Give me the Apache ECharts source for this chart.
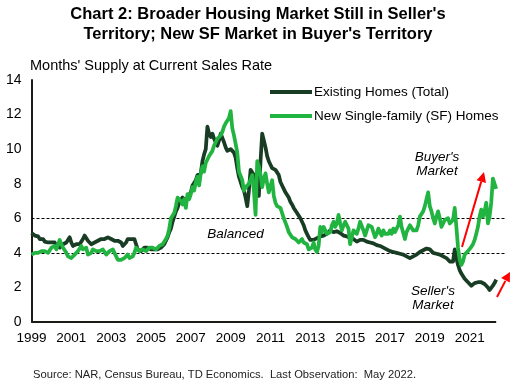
<!DOCTYPE html>
<html><head><meta charset="utf-8">
<script src="https://cdn.jsdelivr.net/npm/echarts@6/dist/echarts.min.js"></script>
<style>html,body{margin:0;padding:0;background:#fff}#c{width:516px;height:385px}</style>
</head><body><div id="c"></div>
<script>
// ---------- DATA ----------
const chartTitle = "Chart 2: Broader Housing Market Still in Seller's\nTerritory; New SF Market in Buyer's Territory";
const yAxisTitle = "Months' Supply at Current Sales Rate";
const sourceNote = "Source: NAR, Census Bureau, TD Economics.  Last Observation:  May 2022.";
const seriesNames = ["Existing Homes (Total)", "New Single-family (SF) Homes"];
const yTicks = [0, 2, 4, 6, 8, 10, 12, 14];
const firstYear = 1999, lastYear = 2022, lastMonth = 5; // monthly, Jan 1999 - May 2022
const balancedBand = [4, 6];

// Existing homes, months' supply (Jan 1999 .. May 2022)
const existingHomes = [
  5.15, 5.2, 5.0, 4.9, 4.95, 4.8, 4.7, 4.8, 4.65, 4.7, 4.6, 4.5,   // 1999
  4.6, 4.5, 4.6, 4.4, 4.5, 4.3, 4.4, 4.5, 4.4, 4.6, 4.7, 4.9,      // 2000
  4.6, 4.4, 4.4, 4.5, 4.4, 4.5, 4.6, 4.8, 5.0, 4.9, 4.7, 4.6,      // 2001
  4.5, 4.6, 4.6, 4.7, 4.7, 4.8, 4.8, 4.7, 4.8, 4.9, 4.9, 4.8,      // 2002
  4.8, 4.9, 4.7, 4.8, 4.7, 4.6, 4.6, 4.4, 4.4, 4.6, 4.8, 4.9,      // 2003
  4.8, 4.9, 4.8, 4.5, 4.2, 4.2, 4.1, 4.2, 4.3, 4.2, 4.3, 4.2,      // 2004
  4.2, 4.3, 4.2, 4.3, 4.2, 4.3, 4.3, 4.4, 4.5, 4.7, 4.9, 5.2,      // 2005
  5.4, 5.8, 6.1, 6.4, 6.6, 6.9, 7.0, 7.2, 7.1, 7.0, 7.2, 7.3,      // 2006
  7.5, 7.9, 8.0, 8.2, 8.5, 8.4, 8.6, 9.3, 9.7, 10.0, 11.3, 10.9,   // 2007
  10.7, 10.9, 10.6, 10.4, 10.2, 10.5, 10.9, 10.8, 10.4, 10.1, 9.9, 10.0, // 2008
  10.0, 10.1, 9.8, 9.5, 8.9, 8.4, 8.1, 7.8, 7.6, 7.2, 6.7, 7.6,    // 2009
  8.8, 8.7, 8.5, 8.6, 7.8, 7.3, 9.3, 10.9, 10.5, 10.1, 9.6, 9.3,   // 2010
  9.1, 8.9, 8.9, 8.8, 8.7, 8.5, 8.1, 7.9, 7.7, 7.5, 7.4, 7.2,      // 2011
  6.95, 6.8, 6.6, 6.5, 6.3, 6.2, 6.0, 5.9, 5.6, 5.3, 5.1, 4.9,     // 2012
  4.75, 4.7, 4.75, 4.8, 4.85, 4.9, 4.95, 5.0, 5.0, 5.0, 5.1, 5.2,  // 2013
  5.3, 5.25, 5.2, 5.2, 5.25, 5.2, 5.15, 5.1, 5.0, 5.0, 4.95, 4.9,  // 2014
  4.85, 4.9, 4.8, 4.7, 4.65, 4.7, 4.75, 4.8, 4.75, 4.7, 4.65, 4.6, // 2015
  4.6, 4.6, 4.55, 4.45, 4.45, 4.4, 4.4, 4.35, 4.3, 4.25, 4.2, 4.15, // 2016
  4.1, 4.1, 4.05, 4.05, 4.0, 4.0, 3.95, 3.95, 3.9, 3.85, 3.8, 3.7, // 2017
  3.7, 3.75, 3.8, 3.85, 3.9, 3.95, 4.05, 4.1, 4.15, 4.2, 4.25, 4.35, // 2018
  4.2, 4.1, 4.0, 4.0, 3.95, 3.9, 3.9, 3.85, 3.8, 3.75, 3.7, 3.6,   // 2019
  3.5, 3.4, 3.5, 4.2, 3.7, 3.3, 3.0, 2.8, 2.7, 2.5, 2.4, 2.3,      // 2020
  2.2, 2.1, 2.15, 2.25, 2.3, 2.3, 2.35, 2.3, 2.25, 2.2, 2.1, 2.0,  // 2021
  1.85, 1.9, 2.1, 2.25, 2.45                                       // 2022
];

// New single-family homes, months' supply (Jan 1999 .. May 2022)
const newSFHomes = [
  3.9, 4.0, 4.0, 3.9, 4.0, 4.0, 4.1, 4.2, 4.1, 4.0, 4.0, 4.1,      // 1999
  4.3, 4.3, 4.4, 4.2, 4.5, 4.75, 4.5, 4.3, 4.2, 4.0, 3.8, 3.7,     // 2000
  3.7, 3.8, 3.9, 4.0, 4.1, 4.2, 4.4, 4.2, 4.1, 4.3, 3.9, 3.8,      // 2001
  4.0, 4.2, 4.3, 4.1, 4.0, 4.1, 4.0, 4.2, 4.1, 3.9, 4.0, 4.1,      // 2002
  4.1, 4.2, 4.0, 3.9, 3.6, 3.5, 3.6, 3.5, 3.7, 3.8, 3.9, 3.7,      // 2003
  3.7, 3.8, 4.0, 4.3, 4.4, 4.1, 4.0, 4.2, 4.3, 4.1, 4.2, 4.3,      // 2004
  4.2, 4.3, 4.3, 4.2, 4.3, 4.4, 4.3, 4.5, 4.6, 4.8, 5.0, 5.4,      // 2005
  6.0, 6.1, 6.3, 6.7, 7.2, 7.3, 7.0, 6.8, 7.1, 6.6, 7.4, 7.1,      // 2006
  7.4, 7.8, 7.6, 8.1, 8.4, 7.9, 8.6, 9.0, 8.7, 9.2, 9.4, 9.6,      // 2007
  9.7, 9.9, 10.2, 10.4, 10.6, 10.5, 10.8, 11.0, 11.3, 11.5, 11.4, 11.8, // 2008
  12.2, 11.2, 10.8, 10.3, 9.8, 8.7, 8.8, 8.2, 7.6, 7.8, 7.7, 8.0,  // 2009
  8.0, 8.5, 7.6, 6.2, 9.3, 9.0, 8.5, 7.8, 8.3, 8.6, 8.0, 7.5,      // 2010
  7.6, 8.2, 7.3, 6.9, 6.7, 6.8, 6.6, 6.5, 6.0, 5.9, 5.5, 5.2,      // 2011
  5.1, 4.9, 4.8, 4.8, 4.7, 4.6, 4.7, 4.8, 4.6, 4.5, 4.5, 4.2,      // 2012
  4.1, 4.3, 4.6, 4.2, 4.05, 4.4, 5.5, 5.2, 5.5, 5.3, 5.1, 5.0,     // 2013
  5.2, 5.6, 5.8, 5.5, 5.7, 6.2, 5.7, 5.3, 5.6, 5.8, 5.7, 5.4,      // 2014
  4.5, 4.9, 5.3, 5.4, 5.1, 5.4, 5.8, 5.9, 5.3, 5.0, 5.3, 5.6,      // 2015
  5.6, 5.5, 5.2, 4.9, 5.1, 5.4, 5.3, 5.0, 5.3, 5.1, 5.2, 5.1,      // 2016
  5.3, 5.1, 5.4, 5.2, 5.3, 5.6, 6.1, 5.5, 5.6, 4.8, 5.2, 5.4,      // 2017
  5.6, 5.5, 5.3, 5.4, 5.3, 5.6, 6.1, 6.0, 6.4, 6.7, 7.1, 7.5,      // 2018
  6.7, 6.4, 6.0, 5.7, 6.1, 6.4, 6.0, 5.5, 5.7, 5.9, 5.8, 6.0,      // 2019
  5.7, 5.8, 5.9, 6.6, 5.5, 4.3, 3.6, 3.3, 3.5, 3.9, 4.0, 4.1,      // 2020
  4.2, 4.35, 4.5, 4.75, 5.1, 5.5, 6.1, 6.5, 6.1, 6.4, 6.9, 5.7,    // 2021
  6.1, 6.9, 8.3, 8.2, 7.7                                          // 2022
];

// ---------- BUILD ----------
const months = [];
for (let y = firstYear; y <= lastYear; y++) {
  for (let m = 1; m <= 12; m++) {
    if (y === lastYear && m > lastMonth) break;
    months.push(y + '-' + (m < 10 ? '0' + m : m));
  }
}
const lastIdx = months.length - 1;
// a few empty months after the last observation so the reference lines run a little past the data
const categories = months.slice();
for (let k = 1; k <= 5; k++) categories.push(lastYear + '-p' + k);

const FONT = "'Liberation Sans', Arial, sans-serif";
const chart = echarts.init(document.getElementById('c'), null, {renderer: 'canvas'});

chart.setOption({
  animation: false,
  backgroundColor: '#ffffff',
  title: {
    text: chartTitle, left: 'center', top: -1,
    textStyle: {fontFamily: FONT, fontSize: 16.5, fontWeight: 'bold', color: '#000', lineHeight: 20}
  },
  legend: {
    orient: 'vertical', left: 265, top: 79, itemGap: 8,
    itemWidth: 42, itemHeight: 4, icon: 'rect',
    data: seriesNames,
    textStyle: {fontFamily: FONT, fontSize: 13.5, color: '#000', lineHeight: 16, padding: [0, 0, 0, -3]}
  },
  grid: {left: 31.5, right: 11.5, top: 80, bottom: 63, containLabel: false},
  xAxis: {
    type: 'category', data: categories, boundaryGap: false,
    axisLine: {show: false}, axisTick: {show: false}, splitLine: {show: false},
    axisLabel: {
      interval: 23, margin: 9, color: '#000', fontFamily: FONT, fontSize: 13.5,
      formatter: v => v.slice(0, 4)
    }
  },
  yAxis: {
    type: 'value', min: yTicks[0], max: yTicks[yTicks.length - 1], interval: yTicks[1] - yTicks[0],
    axisLine: {show: true, lineStyle: {color: '#1c1c14', width: 2}},
    axisTick: {show: false}, splitLine: {show: false},
    axisLabel: {margin: 10, color: '#000', fontFamily: FONT, fontSize: 14}
  },
  series: [
    {
      name: seriesNames[0], type: 'line', data: existingHomes, symbol: 'none', z: 3,
      lineStyle: {color: '#183d24', width: 3.75, join: 'round'}, itemStyle: {color: '#183d24'},
      markLine: {
        silent: true, symbol: ['none', 'none'], z: 1, label: {show: false},
        data: [
          {yAxis: balancedBand[0], lineStyle: {color: '#000', width: 1, type: [3, 2]}},
          {yAxis: balancedBand[1], lineStyle: {color: '#000', width: 1, type: [3, 2]}},
          [{coord: [categories[0], 0], lineStyle: {color: '#1c1c14', width: 2, type: 'solid'}},
           {coord: [categories[lastIdx], 0]}]
        ]
      }
    },
    {
      name: seriesNames[1], type: 'line', data: newSFHomes, symbol: 'none', z: 4,
      lineStyle: {color: '#22b441', width: 3.75, join: 'round'}, itemStyle: {color: '#22b441'}
    }
  ],
  graphic: [
    {type: 'text', x: 30, y: 66, style: {text: yAxisTitle, fontFamily: FONT, fontSize: 14.5, fill: '#000', verticalAlign: 'middle'}},
    {type: 'text', x: 235.5, y: 234, style: {text: 'Balanced', fontFamily: FONT, fontSize: 13.5, fontStyle: 'italic', fill: '#000', align: 'center', verticalAlign: 'middle'}},
    {type: 'text', x: 437, y: 164, style: {text: "Buyer's\nMarket", fontFamily: FONT, fontSize: 13.5, fontStyle: 'italic', fill: '#000', align: 'center', verticalAlign: 'middle', lineHeight: 14}},
    {type: 'text', x: 433, y: 298, style: {text: "Seller's\nMarket", fontFamily: FONT, fontSize: 13.5, fontStyle: 'italic', fill: '#000', align: 'center', verticalAlign: 'middle', lineHeight: 14}},
    {type: 'line', shape: {x1: 462, y1: 247, x2: 481.2, y2: 181.6}, style: {stroke: '#ff0000', lineWidth: 2}},
    {type: 'polygon', shape: {points: [[484, 172], [486, 183], [476.6, 180.2]]}, style: {fill: '#ff0000'}},
    {type: 'line', shape: {x1: 497, y1: 297, x2: 505.4, y2: 280.9}, style: {stroke: '#ff0000', lineWidth: 2}},
    {type: 'polygon', shape: {points: [[510, 272], [509.8, 282.5], [501.1, 278]]}, style: {fill: '#ff0000'}},
    {type: 'text', x: 33, y: 375, style: {text: sourceNote, fontFamily: FONT, fontSize: 11.2, fill: '#222', verticalAlign: 'middle'}}
  ]
});
</script>
</body></html>
